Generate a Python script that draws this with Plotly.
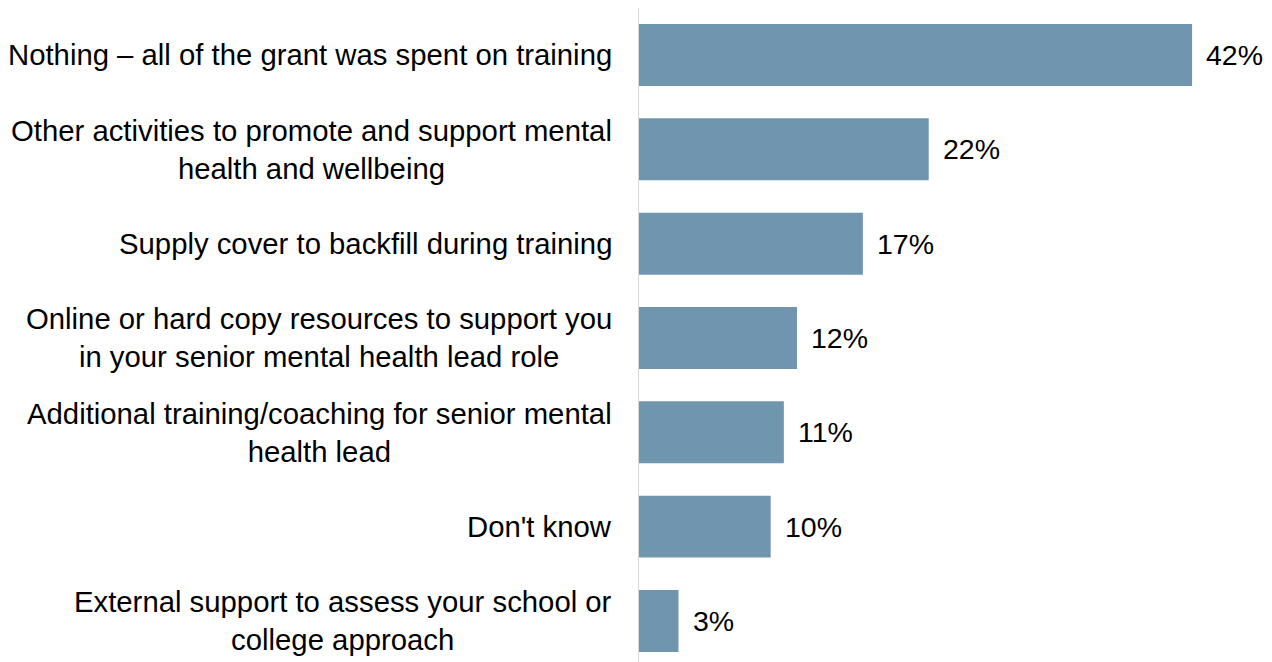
import plotly.graph_objects as go

# Survey responses: what the remaining grant was spent on
categories = [
    "Nothing – all of the grant was spent on training",
    "Other activities to promote and support mental<br>health and wellbeing",
    "Supply cover to backfill during training",
    "Online or hard copy resources to support you<br>in your senior mental health lead role",
    "Additional training/coaching for senior mental<br>health lead",
    "Don't know",
    "External support to assess your school or<br>college approach",
]
values = [42, 22, 17, 12, 11, 10, 3]
value_labels = ["42%", "22%", "17%", "12%", "11%", "10%", "3%"]

BAR_COLOR = "#7095ae"
FONT = "Liberation Sans, Arial, sans-serif"
CAT_FONT_SIZE = 29.3
VAL_FONT_SIZE = 28.5

ids = list(range(len(categories)))

fig = go.Figure(
    go.Bar(
        x=values,
        y=ids,
        orientation="h",
        marker=dict(color=BAR_COLOR, line=dict(width=0)),
        hoverinfo="skip",
    )
)

annotations = []
for i, (cat, val, lab) in enumerate(zip(categories, values, value_labels)):
    # category label, right-aligned to the axis with centred lines
    annotations.append(
        dict(
            x=0, xref="paper", y=i, yref="y",
            text=cat, showarrow=False,
            xanchor="right", yanchor="middle", align="center",
            xshift=-25,
            font=dict(family=FONT, size=CAT_FONT_SIZE, color="#000000"),
        )
    )
    # value label just past the end of the bar
    annotations.append(
        dict(
            x=val, xref="x", y=i, yref="y",
            text=lab, showarrow=False,
            xanchor="left", yanchor="middle",
            xshift=12,
            font=dict(family=FONT, size=VAL_FONT_SIZE, color="#000000"),
        )
    )

fig.update_layout(
    width=1272,
    height=662,
    margin=dict(l=639, r=0, t=8, b=0),
    paper_bgcolor="white",
    plot_bgcolor="white",
    bargap=0.343,
    showlegend=False,
    annotations=annotations,
    xaxis=dict(
        range=[0, 48.07],
        showgrid=False,
        zeroline=False,
        showticklabels=False,
        showline=False,
    ),
    yaxis=dict(
        range=[6.435, -0.498],
        showgrid=False,
        zeroline=False,
        showticklabels=False,
        showline=True,
        linecolor="#d9d9d9",
        linewidth=1,
    ),
)

fig.write_html("out.html")
